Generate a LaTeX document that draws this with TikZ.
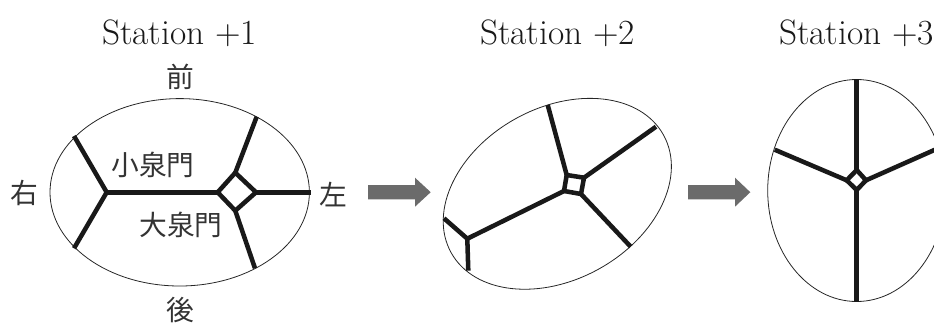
\documentclass[tikz,border=0pt]{standalone}
\usepackage{fontspec}
\newfontfamily\cjk{Noto Sans CJK JP}
\begin{document}
\begin{tikzpicture}[x=0.75pt,y=-0.75pt,
  rim/.style={draw=black!85,line width=0.6pt},
  wall/.style={draw=black!90,line width=3.4pt,line join=miter,line cap=butt},
  flow/.style={fill=black!58,draw=none},
  title/.style={font=\fontsize{26.5}{30}\selectfont,inner sep=0pt,text=black!90},
  kanji/.style={font=\cjk\fontsize{20.8}{24}\selectfont,inner sep=0pt,text=black!80}]
\useasboundingbox (0,0) rectangle (934,322);
\clip (0,0) rectangle (934,322);
% titles
\node[title] (t1) at (179.5,33) {Station +1};
\node[title] (t2) at (557.5,33) {Station +2};
\node[title] (t3) at (856.5,33) {Station +3};
% labels
\node[kanji] (front) at (180,77) {前};
\node[kanji] (back) at (180,310) {後};
\node[kanji] (right) at (24,193) {右};
\node[kanji] (left) at (333,195) {左};
\node[kanji] (small) at (153,165) {小泉門};
\node[kanji] (large) at (181,225) {大泉門};
% ellipses
\draw[rim] (179.7,192.3) ellipse [x radius=129.7*0.75pt,y radius=93.7*0.75pt];
\draw[rim] (557.3,193.8) ellipse [x radius=121.4*0.75pt,y radius=85.9*0.75pt,rotate=29];
\draw[rim] (856.7,190.5) ellipse [x radius=89*0.75pt,y radius=111*0.75pt];
% station 1
\coordinate (aj) at (106.7,192.3);
\coordinate (an) at (74,136);
\coordinate (as) at (74,248.3);
\coordinate (al) at (217.7,192.3);
\coordinate (at) at (235.3,172.7);
\coordinate (ar) at (256,192.3);
\coordinate (ab) at (235.3,210.7);
\coordinate (ae1) at (256.7,116.7);
\coordinate (ae2) at (255,268.3);
\coordinate (ae3) at (310.7,192.3);
\draw[wall] (an) -- (aj) -- (as);
\draw[wall] (aj) -- (al);
\draw[wall] (al) -- (at) -- (ar) -- (ab) -- cycle;
\draw[wall] (at) -- (ae1);
\draw[wall] (ab) -- (ae2);
\draw[wall] (ar) -- (ae3);
% station 2
\coordinate (bj) at (467.3,238.7);
\coordinate (bn) at (444,218.3);
\coordinate (bs) at (468.3,270.7);
\coordinate (bl) at (564,191);
\coordinate (bt) at (566.7,175);
\coordinate (br) at (584,177.7);
\coordinate (bb) at (581,194);
\coordinate (be1) at (547.7,105);
\coordinate (be2) at (656,126.7);
\coordinate (be3) at (630.7,246.7);
\draw[wall] (bn) -- (bj) -- (bs);
\draw[wall] (bj) -- (bl);
\draw[wall] (bl) -- (bt) -- (br) -- (bb) -- cycle;
\draw[wall] (bt) -- (be1);
\draw[wall] (br) -- (be2);
\draw[wall] (bb) -- (be3);
% station 3
\coordinate (cl) at (846.7,180.3);
\coordinate (ct) at (856.7,170);
\coordinate (cr) at (866,180.3);
\coordinate (cb) at (856.7,190);
\coordinate (ce1) at (856.7,79.3);
\coordinate (ce2) at (774.7,149.7);
\coordinate (ce3) at (935,149.7);
\coordinate (ce4) at (856.7,301.7);
\draw[wall] (cl) -- (ct) -- (cr) -- (cb) -- cycle;
\draw[wall] (ct) -- (ce1);
\draw[wall] (cl) -- (ce2);
\draw[wall] (cr) -- (ce3);
\draw[wall] (cb) -- (ce4);
% arrows
\fill[flow] (368,185) -- (415,185) -- (415,177.7) -- (430.7,192.2) -- (415,206.7) -- (415,199.3) -- (368,199.3) -- cycle;
\fill[flow] (688,185) -- (735,185) -- (735,177.7) -- (750.3,192.2) -- (735,206.7) -- (735,199.3) -- (688,199.3) -- cycle;
\end{tikzpicture}
\end{document}
